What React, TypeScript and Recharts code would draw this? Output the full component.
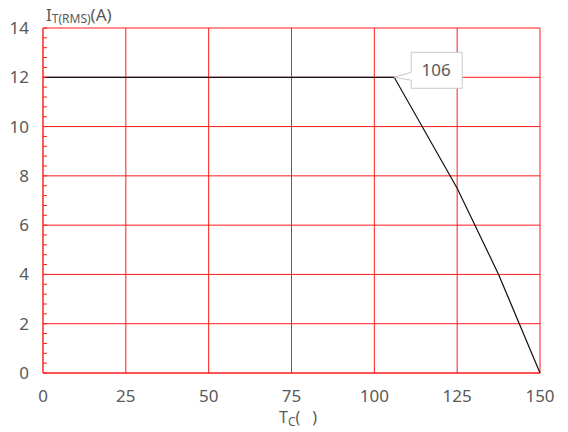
import React from 'react';
import { LineChart, Line, XAxis, YAxis, CartesianGrid, LabelList } from 'recharts';

// derating curve: case temperature vs RMS on-state current
const caseTemp = [0, 106, 125, 137.5, 150];
const currentRms = [12, 12, 7.5, 4, 0];

const xTicks = [0, 25, 50, 75, 100, 125, 150];
const yTicks = [0, 2, 4, 6, 8, 10, 12, 14];
// minor ticks on the left axis, every 0.4 A
const yMinorTicks = Array.from({ length: 36 }, (_, i) => Math.round(i * 4) / 10);

const data = caseTemp.map((t, i) => ({ t, i: currentRms[i] }));

const RED = '#ff1a1a';
const TEXT = '#595959';
const FONT = '"Noto Sans", sans-serif';

function XTick(props: any) {
  const { x, y, payload } = props;
  return (
    <text x={x} y={y + 29} textAnchor="middle" fill={TEXT} fontSize={17} fontFamily={FONT}>
      {payload.value}
    </text>
  );
}

function YTick(props: any) {
  const { x, y, payload } = props;
  const major = Math.abs(payload.value % 2) < 1e-6;
  return (
    <g>
      <line x1={x} x2={x + 4} y1={y} y2={y} stroke={RED} strokeWidth={1} />
      {major && (
        <text x={x - 14} y={y + 6} textAnchor="end" fill={TEXT} fontSize={17} fontFamily={FONT}>
          {payload.value}
        </text>
      )}
    </g>
  );
}

function Callout(props: any) {
  const { x, y, index, value } = props;
  if (index !== 1) return null;
  const bx = x + 17;
  const path = `M${x},${y} L${bx},${y - 5} L${bx},${y - 25} L${x + 68},${y - 25} L${x + 68},${y + 11} L${bx},${y + 11} L${bx},${y + 3} Z`;
  return (
    <g>
      <path d={path} fill="#fff" stroke="#c8c8c8" strokeWidth={1} />
      <text x={x + 42} y={y - 1} textAnchor="middle" fill={TEXT} fontSize={17} fontFamily={FONT}>
        {value}
      </text>
    </g>
  );
}

function XTitle(props: any) {
  const vb = props.viewBox;
  const y = vb.y + 50;
  return (
    <text x={279} y={y} fill={TEXT} fontSize={16} fontFamily={FONT}>
      <tspan>T</tspan>
      <tspan fontSize={12} dy={3}>C</tspan>
      <tspan dy={-3}>(</tspan>
      <tspan dx={12}>)</tspan>
    </text>
  );
}

function YTitle() {
  return (
    <text x={46} y={21} fill={TEXT} fontSize={17} fontFamily={FONT}>
      <tspan>I</tspan>
      <tspan fontSize={12} dy={2}>T(RMS)</tspan>
      <tspan dy={-2}>(A)</tspan>
    </text>
  );
}

export default function App() {
  return (
    <div style={{ position: 'fixed', left: 0, top: 0, width: 568, height: 432, background: '#fff' }}>
      <LineChart width={568} height={432} data={data} margin={{ top: 28, right: 28, left: 3, bottom: 29 }}>
        <CartesianGrid stroke={RED} strokeWidth={1} horizontalValues={yTicks} verticalValues={xTicks} />
        <XAxis
          type="number"
          dataKey="t"
          domain={[0, 150]}
          ticks={xTicks}
          interval={0}
          height={30}
          axisLine={{ stroke: RED, strokeWidth: 1 }}
          tickLine={false}
          tickSize={0}
          tickMargin={0}
          tick={<XTick />}
          label={<XTitle />}
        />
        <YAxis
          type="number"
          domain={[0, 14]}
          ticks={yMinorTicks}
          interval={0}
          width={40}
          axisLine={{ stroke: '#ff4d4d', strokeWidth: 1.5 }}
          tickLine={false}
          tickSize={0}
          tickMargin={0}
          tick={<YTick />}
          label={<YTitle />}
        />
        <Line
          type="linear"
          dataKey="i"
          stroke="#111"
          strokeWidth={1.2}
          dot={false}
          isAnimationActive={false}
        >
          <LabelList dataKey="t" content={<Callout />} />
        </Line>
      </LineChart>
    </div>
  );
}
